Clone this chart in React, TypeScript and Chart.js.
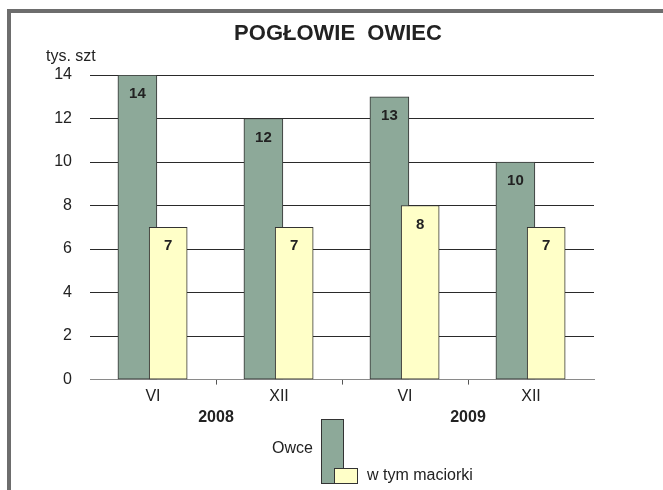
import React, { useEffect, useRef } from 'react';
import { Chart, registerables } from 'chart.js';

Chart.register(...registerables);

const chartTitle = 'POGŁOWIE  OWIEC';
const unitLabel = 'tys. szt';
const months = ['VI', 'XII', 'VI', 'XII'];
const years = ['2008', '2009'];
const sheepLabel = 'Owce';
const sheepValues = [14, 12, 13, 10];
const eweLabel = 'w tym maciorki';
const eweValues = [7, 7, 8, 7];
const yMin = 0;
const yMax = 14;
const yStep = 2;

const FONT = "'Liberation Sans', Arial, sans-serif";
const TEXT = '#222222';
const GREEN = '#8DA999';
const YELLOW = '#FFFFC8';
const EDGE = '#333333';

const overlapPlugin = {
  id: 'overlapBars',
  afterDatasetsUpdate(chart: any) {
    chart.data.datasets.forEach((ds: any, i: number) => {
      const meta = chart.getDatasetMeta(i);
      const scale = chart.scales[meta.xAxisID];
      const s = ds.shift || 0;
      meta.data.forEach((el: any, j: number) => {
        el.x = scale.getPixelForValue(j) + s * el.width;
      });
    });
  },
};

const valueLabelPlugin = {
  id: 'valueLabels',
  afterDatasetsDraw(chart: any) {
    const ctx = chart.ctx;
    ctx.save();
    ctx.font = `bold 15px ${FONT}`;
    ctx.fillStyle = TEXT;
    ctx.textAlign = 'center';
    ctx.textBaseline = 'middle';
    chart.data.datasets.forEach((ds: any, i: number) => {
      const meta = chart.getDatasetMeta(i);
      meta.data.forEach((el: any, j: number) => {
        ctx.fillText(String(ds.data[j]), el.x, el.y + 19);
      });
    });
    ctx.restore();
  },
};

const extrasPlugin = {
  id: 'extras',
  afterDraw(chart: any) {
    const ctx = chart.ctx;
    const area = chart.chartArea;
    ctx.save();
    // unit label
    ctx.font = `16px ${FONT}`;
    ctx.fillStyle = TEXT;
    ctx.textAlign = 'left';
    ctx.textBaseline = 'middle';
    ctx.fillText(unitLabel, area.left - 44, area.top - 18);

    // custom legend
    const cx = chart.width / 2;
    const bottom = chart.height - 7;
    const ds0 = chart.data.datasets[0];
    const ds1 = chart.data.datasets[1];
    ctx.lineWidth = 1;
    ctx.strokeStyle = EDGE;
    ctx.fillStyle = ds0.backgroundColor;
    ctx.fillRect(cx - 17, bottom - 64, 22, 64);
    ctx.strokeRect(cx - 16.5, bottom - 63.5, 22, 64);
    ctx.fillStyle = ds1.backgroundColor;
    ctx.fillRect(cx - 4, bottom - 15, 23, 15);
    ctx.strokeRect(cx - 3.5, bottom - 14.5, 23, 15);

    ctx.fillStyle = TEXT;
    ctx.font = `16px ${FONT}`;
    ctx.textAlign = 'right';
    ctx.fillText(ds0.label, cx - 25, bottom - 34);
    ctx.textAlign = 'left';
    ctx.fillText(ds1.label, cx + 29, bottom - 7);
    ctx.restore();
  },
};

export default function App() {
  const ref = useRef<HTMLCanvasElement | null>(null);

  useEffect(() => {
    if (!ref.current) return;
    const chart = new Chart(ref.current, {
      type: 'bar',
      data: {
        labels: months,
        datasets: [
          {
            label: sheepLabel,
            data: sheepValues,
            backgroundColor: GREEN,
            borderColor: EDGE,
            borderWidth: 1,
            borderSkipped: false,
            barThickness: 39,
            xAxisID: 'x',
            order: 1,
            shift: -0.4,
          } as any,
          {
            label: eweLabel,
            data: eweValues,
            backgroundColor: YELLOW,
            borderColor: EDGE,
            borderWidth: 1,
            borderSkipped: false,
            barThickness: 38,
            xAxisID: 'x2',
            order: 0,
            shift: 0.4,
          } as any,
        ],
      },
      options: {
        responsive: false,
        animation: false,
        devicePixelRatio: 1,
        layout: { padding: { left: 39, right: 39, top: 0, bottom: 63 } },
        plugins: {
          legend: { display: false },
          tooltip: { enabled: false },
          title: {
            display: true,
            text: chartTitle,
            color: TEXT,
            font: { family: FONT, size: 22, weight: 'bold' },
            padding: { top: 8, bottom: 27.6 },
          },
        },
        scales: {
          x: {
            type: 'category',
            position: 'bottom',
            weight: 0,
            offset: true,
            grid: {
              offset: true,
              drawOnChartArea: false,
              drawTicks: true,
              tickLength: 5,
              color: (c: any) =>
                c.index === undefined || c.index === 0 || c.type !== 'tick' ? 'rgba(0,0,0,0)' : '#555555',
            },
            border: { display: true, color: '#8a8a8a', width: 1 },
            ticks: {
              color: TEXT,
              font: { family: FONT, size: 16 },
              padding: 2,
              maxRotation: 0,
              autoSkip: false,
            },
          },
          x2: {
            type: 'category',
            position: 'bottom',
            labels: months,
            offset: true,
            display: false,
            weight: -1,
          },
          year: {
            type: 'category',
            position: 'bottom',
            labels: years,
            weight: 1,
            offset: true,
            grid: { display: false, drawTicks: false },
            border: { display: false },
            ticks: {
              color: TEXT,
              font: { family: FONT, size: 16, weight: 'bold' },
              padding: 0,
              maxRotation: 0,
              autoSkip: false,
            },
          },
          y: {
            position: 'left',
            min: yMin,
            max: yMax,
            afterFit: (s: any) => {
              s.width = 40;
            },
            ticks: {
              stepSize: yStep,
              color: TEXT,
              font: { family: FONT, size: 16 },
              padding: 18,
            },
            grid: {
              drawTicks: false,
              color: (c: any) => (c.tick && c.tick.value === 0 ? '#8a8a8a' : '#2a2a2a'),
              lineWidth: 1,
            },
            border: { display: false },
          },
          ySpacer: {
            type: 'linear',
            position: 'right',
            min: yMin,
            max: yMax,
            afterFit: (s: any) => {
              s.width = 32;
            },
            ticks: { display: false },
            grid: { display: false, drawTicks: false },
            border: { display: false },
          },
        },
      } as any,
      plugins: [overlapPlugin, valueLabelPlugin, extrasPlugin],
    });
    return () => chart.destroy();
  }, []);

  return (
    <div
      style={{
        position: 'fixed',
        left: 0,
        top: 0,
        width: 663,
        height: 490,
        overflow: 'hidden',
        background: '#ffffff',
      }}
    >
      <div
        style={{
          position: 'absolute',
          left: 7,
          top: 9,
          width: 700,
          height: 520,
          border: '4px solid #6d6d6d',
          background: '#ffffff',
        }}
      >
        <canvas
          ref={ref}
          width={654}
          height={477}
          style={{ position: 'absolute', left: 0, top: 0, width: 654, height: 477 }}
        />
      </div>
    </div>
  );
}
